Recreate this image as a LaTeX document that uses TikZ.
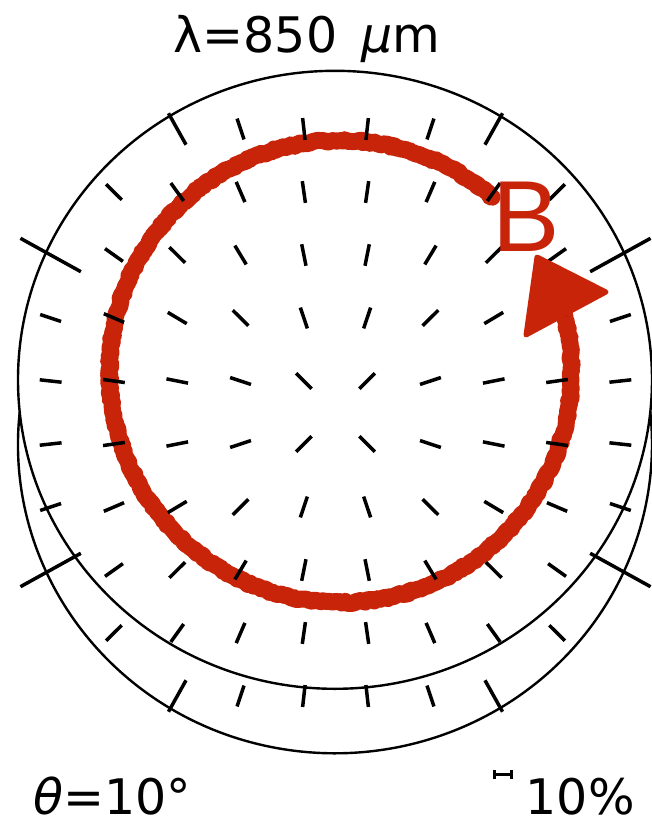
\documentclass[tikz,border=0pt]{standalone}
\usepackage{fontspec}
\setmainfont{DejaVu Sans}
\newfontfamily\bigBfont{Liberation Sans}
\usepackage{xcolor}
\definecolor{mkred}{RGB}{200,36,10}
\usetikzlibrary{calc,decorations.pathmorphing}
\tikzset{
  rim/.style={line width=2.4pt},
  vec/.style={line width=3.5pt},
  marker/.style={draw=mkred, line width=17pt, line cap=round, line join=round,
                 decorate, decoration={random steps, segment length=2.5pt, amplitude=1.2pt}},
  lbl/.style={inner sep=0pt, anchor=base west, font=\fontsize{49}{56}\selectfont},
}

\begin{document}
\begin{tikzpicture}[x=1pt, y=1pt]
  \useasboundingbox (0,0) rectangle (651,-825);
  \coordinate (ctr) at (335.5,-412.5);
  \coordinate (upc) at (335,-379.8);
  \coordinate (loc) at (335,-444.3);
  \coordinate (rc) at (340.5,-371.5);

  % Red loop
  \draw[marker] ($(rc)+(49:231)$) arc[start angle=49, end angle=376, radius=231];

  % Rims
  \draw[rim] (upc) ellipse[x radius=317, y radius=309];
  \draw[rim] ($(loc)+(174:317 and 309)$) arc[start angle=174, end angle=366, x radius=317, y radius=309];

  % Vectors
  \foreach \r/\cmin/\cmax in {0/2/7,1/1/8,2/0/9,3/0/9,4/0/9,5/0/9,6/0/9,7/0/9,8/1/8,9/2/7}{
    \foreach \c in {\cmin,...,\cmax}{
      \pgfmathsetmacro{\half}{((\r==2||\r==7)&&(\c==0||\c==9)) ? 34.5 : (((\r==0||\r==9)&&(\c==2||\c==7)) ? 18 : 11)}
      \coordinate (p) at ({335.5+(\c-4.5)*63.3},{-412.5-(\r-4.5)*63});
      \draw[vec] ($(p)!\half pt!(ctr)$) -- ($(p)!-\half pt!(ctr)$);
    }
  }

  % Arrow head and letter
  \fill[mkred, draw=mkred, line width=5pt, line join=round] (537,-257) -- (606,-292) -- (526,-335) -- cycle;
  \node[inner sep=0pt, anchor=base, text=mkred, font=\bigBfont\fontsize{101}{101}\selectfont] (bee) at (526,-251.7) {B};

  % Labels
  \node[lbl] (wave) at (173.5,-52) {λ=850~\,{\itshape μ}m};
  \node[lbl] (ang) at (33,-814) {{\itshape θ}=10°};
  \node[lbl] (pct) at (525.5,-814) {10\%};

  % Scale bar
  \draw[line width=3pt] (494.5,-774.5) -- (511,-774.5);
  \draw[line width=3pt] (494.5,-770) -- (494.5,-778.5) (511,-770) -- (511,-778.5);
\end{tikzpicture}
\end{document}
